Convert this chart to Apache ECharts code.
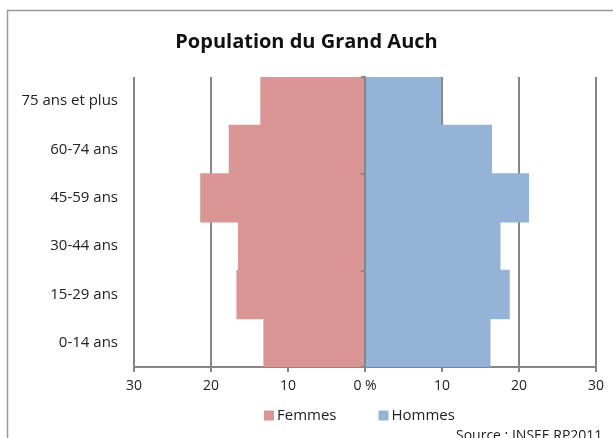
<!DOCTYPE html>
<html>
<head>
<meta charset="utf-8">
<script src="https://cdn.jsdelivr.net/npm/echarts@6/dist/echarts.min.js"></script>
<style>
  html, body { margin: 0; padding: 0; background: #fff; }
  #chart { width: 613px; height: 438px; }
</style>
</head>
<body>
<div id="chart"></div>
<script>
// age groups, bottom to top
const ageGroups = ['0-14 ans', '15-29 ans', '30-44 ans', '45-59 ans', '60-74 ans', '75 ans et plus']
// share of population, %
const femmes = [13.2, 16.7, 16.5, 21.4, 17.7, 13.6]
const hommes = [16.3, 18.8, 17.6, 21.3, 16.5, 9.9]

const font = '"Open Sans", sans-serif'
const grey = '#868686'

let chart = echarts.init(document.getElementById('chart'))
chart.setOption({
  animation: false,
  title: {
    text: 'Population du Grand Auch',
    left: 'center',
    top: 27,
    textStyle: { fontFamily: font, fontSize: 20, fontWeight: 'bold', color: '#111' }
  },
  legend: {
    top: 403,
    left: 259,
    itemWidth: 10,
    itemHeight: 10,
    itemGap: 42,
    icon: 'rect',
    textStyle: { fontFamily: font, fontSize: 15, color: '#222', padding: [0, 0, 0, -2] },
    data: ['Femmes', 'Hommes']
  },
  graphic: [
    {
      type: 'rect',
      shape: { x: 7.5, y: 10.5, width: 700, height: 500 },
      style: { fill: 'none', stroke: '#999', lineWidth: 1.5 },
      silent: true
    },
    {
      type: 'text',
      left: 456,
      top: 429,
      style: { text: 'Source : INSEE RP2011', fontFamily: font, fontSize: 14, fill: '#222' }
    }
  ],
  grid: { left: 134, right: 17, top: 77, bottom: 71 },
  xAxis: {
    type: 'value',
    min: -30,
    max: 30,
    interval: 10,
    axisLine: { show: true, lineStyle: { color: grey, width: 2 } },
    axisTick: { show: true, length: 5, lineStyle: { color: grey, width: 2 } },
    splitLine: { show: true, lineStyle: { color: grey, width: 2 } },
    axisLabel: {
      fontFamily: font,
      fontSize: 14,
      color: '#222',
      margin: 12,
      formatter: function (v) { return v === 0 ? '0 %' : Math.abs(v) }
    }
  },
  yAxis: [
    {
      type: 'category',
      data: ageGroups,
      position: 'left',
      axisLine: { show: false, onZero: false },
      axisTick: { show: false },
      axisLabel: { fontFamily: font, fontSize: 15, color: '#222', margin: 16 }
    },
    {
      type: 'category',
      data: ageGroups,
      position: 'left',
      z: 5,
      axisLine: { show: true, onZero: true, lineStyle: { color: grey, width: 2 } },
      axisTick: { show: true, interval: 1, length: 4, lineStyle: { color: grey, width: 2 } },
      axisLabel: { show: false }
    }
  ],
  series: [
    {
      name: 'Femmes',
      type: 'bar',
      stack: 'pop',
      barWidth: '102%',
      barCategoryGap: 0,
      itemStyle: { color: '#D99694' },
      data: femmes.map(function (v) { return -v })
    },
    {
      name: 'Hommes',
      type: 'bar',
      stack: 'pop',
      barWidth: '102%',
      barCategoryGap: 0,
      itemStyle: { color: '#95B3D7' },
      data: hommes
    }
  ]
})
</script>
</body>
</html>
